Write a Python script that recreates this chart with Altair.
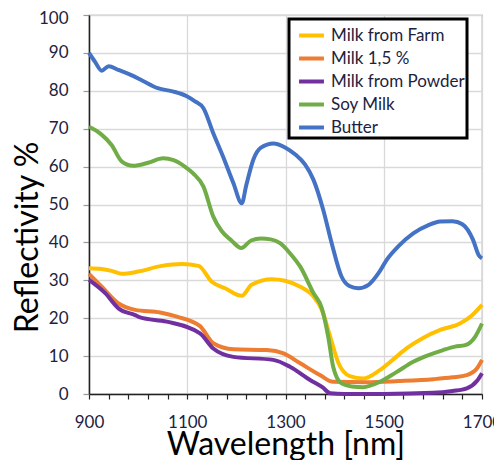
import altair as alt
import pandas as pd

series = ["Milk from Farm", "Milk 1,5 %", "Milk from Powder", "Soy Milk", "Butter"]
colors = ["#FFC000", "#ED7D31", "#7030A0", "#70AD47", "#4472C4"]

farm_wl = [900, 925, 946, 967, 1000, 1048, 1089, 1123, 1150, 1177, 1211, 1231, 1272, 1299, 1330,
           1357, 1374, 1391, 1408, 1431, 1458, 1492, 1520, 1547, 1580, 1615, 1655, 1680, 1700]
farm_r = [33.2, 33.0, 32.5, 31.7, 32.3, 33.8, 34.3, 33.8, 29.6, 27.9, 25.9, 28.8, 30.3, 29.9, 28.3,
          25.7, 22.2, 15.1, 8.1, 4.7, 4.1, 6.3, 9.2, 12.1, 14.8, 16.9, 18.6, 20.8, 23.5]

m15_wl = [900, 926, 960, 994, 1045, 1079, 1126, 1153, 1194, 1262, 1296, 1330, 1370, 1397, 1465,
          1530, 1601, 1640, 1669, 1690, 1700]
m15_r = [31.7, 28.3, 23.9, 22.2, 21.5, 20.4, 17.9, 13.4, 11.8, 11.6, 10.7, 8.1, 5.0, 3.2, 3.1,
         3.4, 3.9, 4.4, 5.0, 6.8, 9.0]

powder_wl = [900, 933, 960, 994, 1004, 1058, 1126, 1153, 1194, 1275, 1309, 1350, 1375, 1391, 1420,
             1500, 1600, 1640, 1669, 1690, 1700]
powder_r = [30.1, 26.6, 22.6, 20.8, 20.2, 19.1, 16.0, 12.0, 9.8, 9.0, 7.2, 3.7, 1.8, 0.2, 0.0,
            0.0, 0.3, 0.8, 1.5, 3.5, 5.5]

soy_wl = [900, 925, 946, 967, 990, 1020, 1051, 1072, 1095, 1112, 1133, 1153, 1170, 1190, 1210,
          1230, 1250, 1270, 1289, 1310, 1330, 1357, 1374, 1387, 1397, 1414, 1435, 1458, 1492, 1525,
          1560, 1590, 1621, 1645, 1666, 1686, 1700]
soy_r = [70.5, 68.5, 65.7, 61.3, 60.2, 61.0, 62.2, 61.7, 60.0, 58.2, 54.7, 46.8, 43.0, 40.5, 38.5,
         40.5, 41.0, 40.8, 39.8, 37.0, 33.6, 26.6, 22.6, 15.1, 7.2, 2.8, 2.0, 1.8, 3.2, 5.7,
         8.5, 10.2, 11.6, 12.5, 12.9, 15.1, 18.6]

butter_wl = [900, 912, 926, 940, 960, 985, 1010, 1040, 1072, 1100, 1115, 1133, 1153, 1173, 1194,
             1211, 1220, 1235, 1250, 1275, 1300, 1320, 1340, 1357, 1377, 1394, 1414, 1430, 1448,
             1469, 1490, 1506, 1530, 1560, 1590, 1615, 1640, 1660, 1682, 1693, 1700]
butter_r = [90.0, 87.7, 85.3, 86.5, 85.5, 84.2, 82.6, 80.7, 79.8, 78.5, 77.3, 75.4, 68.8, 62.6, 55.6,
            50.3, 55.0, 62.0, 65.0, 66.1, 65.0, 63.2, 60.5, 56.5, 48.5, 39.8, 31.0, 28.5, 27.9,
            28.8, 32.0, 35.4, 39.0, 42.4, 44.5, 45.5, 45.6, 44.8, 40.6, 36.7, 35.8]

x_ticks = list(range(900, 1701, 40))
y_ticks = list(range(0, 101, 10))

rows = []
for i, (name, wl, r) in enumerate(zip(series,
                                      [farm_wl, m15_wl, powder_wl, soy_wl, butter_wl],
                                      [farm_r, m15_r, powder_r, soy_r, butter_r])):
    for w, v in zip(wl, r):
        rows.append({"series": name, "wl": w, "r": v, "k": i})
df = pd.DataFrame(rows)

label_color = "#1c2340"

chart = alt.Chart(df).mark_line(strokeWidth=4, interpolate="monotone").encode(
    x=alt.X("wl:Q",
            scale=alt.Scale(domain=[900, 1700], nice=False, zero=False),
            axis=alt.Axis(values=x_ticks, format="d", title="Wavelength [nm]",
                          labelExpr="datum.value % 200 == 100 ? datum.label : ''",
                          gridOpacity={"condition": {"test": "datum.value % 200 == 100", "value": 1}, "value": 0},
                          gridColor="#d9d9d9", gridWidth=1.3,
                          domainColor="#222222", domainWidth=1.5,
                          tickColor="#222222", tickSize=5, tickWidth=1.2,
                          labelFontSize=17, labelColor=label_color, labelPadding=15,
                          labelFont="Lato", labelFlush=False,
                          titleFont="Lato", titleFontSize=32, titleFontWeight="normal",
                          titleColor="#000000", titleBaseline="alphabetic", titleY=60)),
    y=alt.Y("r:Q",
            scale=alt.Scale(domain=[0, 100], nice=False),
            axis=alt.Axis(values=y_ticks, format="d", title="Reflectivity %",
                          gridColor="#d9d9d9", gridWidth=1.3,
                          domainColor="#222222", domainWidth=1.5,
                          tickColor="#999999", tickSize=6, tickWidth=1.2,
                          labelFontSize=17, labelColor=label_color, labelPadding=15,
                          labelFont="Lato",
                          labelOffset={"condition": {"test": "datum.value == 100", "value": 3}, "value": 0},
                          titleFont="Lato", titleFontSize=32, titleFontWeight="normal",
                          titleColor="#000000", titleBaseline="alphabetic",
                          titleX=-52, titleY=222, titleAngle=270, titleAlign="center")),
    color=alt.Color("series:N",
                    scale=alt.Scale(domain=series, range=colors),
                    legend=alt.Legend(title=None, orient="none", legendX=200, legendY=4,
                                      strokeColor="#000000", fillColor="#ffffff",
                                      padding=2, symbolType="stroke", symbolStrokeWidth=4,
                                      symbolSize=620, symbolOffset=6,
                                      labelFont="Lato", labelFontSize=17, labelColor=label_color,
                                      labelOffset=5)),
    order=alt.Order("k:Q"),
).properties(
    width=393,
    height=379,
    padding={"left": 81, "top": 7, "right": 12, "bottom": 66},
    autosize=alt.AutoSizeParams(type="none"),
).configure_view(
    stroke="#999999", strokeWidth=1.2
).configure_legend(
    rowPadding=-4, strokeWidth=3
)

chart.save("out.html", embed_options={"renderer": "svg", "actions": False})
